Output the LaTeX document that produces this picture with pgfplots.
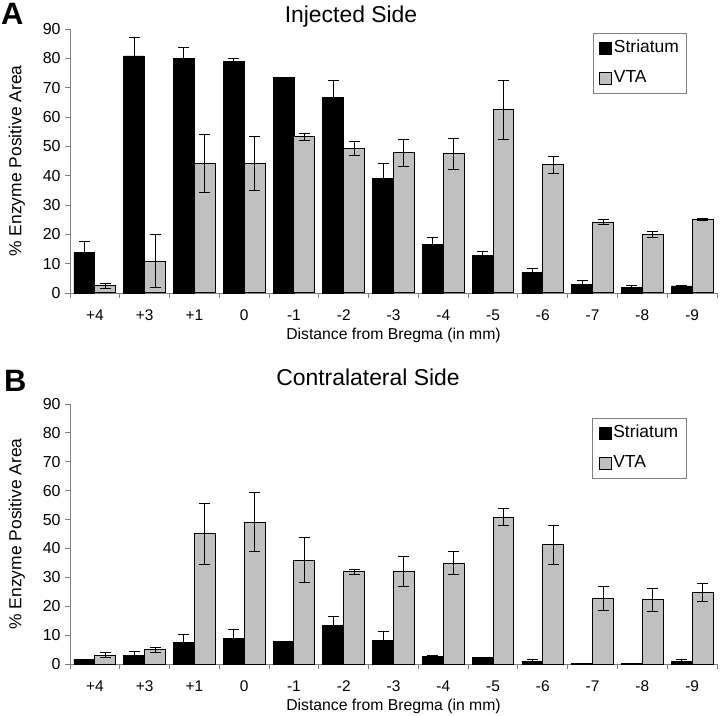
\documentclass[border=0pt]{standalone}
\usepackage{pgfplots}
\pgfplotsset{compat=1.18}
\usepackage{pgfplotstable}
\usepackage{fontspec}
\setmainfont{Liberation Sans}
\definecolor{barGray}{HTML}{C0C0C0}
\definecolor{axGray}{HTML}{808080}

\pgfplotstableread{
x s se v ve
0 13.7 3.8 2.4 0.9
1 80.8 6.2 10.8 9.0
2 79.9 3.7 44.2 9.9
3 79.0 0.8 44.2 9.1
4 73.6 0 53.3 1.2
5 66.6 5.7 49.3 2.5
6 38.9 5.3 47.8 4.6
7 16.6 2.3 47.5 5.3
8 12.8 1.3 62.4 10.0
9 7.0 1.4 43.7 3.0
10 2.8 1.3 24.2 1.0
11 1.9 0.5 19.9 0.9
12 2.4 0 25.1 0.3
}\dataA

\pgfplotstableread{
x s se v ve
0 1.6 0 3.1 0.9
1 3.1 1.2 4.9 0.9
2 7.4 2.8 45.1 10.6
3 8.8 3.2 49.0 10.2
4 7.7 0 35.9 7.8
5 13.3 3.2 31.9 0.9
6 8.3 2.8 32.0 5.2
7 2.5 0.5 34.9 3.9
8 2.4 0 50.8 3.0
9 0.9 0.5 41.2 6.9
10 0.2 0 22.8 4.2
11 0.2 0 22.2 4.0
12 1.0 0.5 24.7 3.0
}\dataB

\pgfplotsset{
  panel/.style={
    anchor=south west,
    scale only axis, width=647bp,
    xmin=-0.5, xmax=12.5, ymin=0, ymax=90,
    ybar=0pt, bar width=0.42,
    ytick={0,10,...,90},
    xtick={0,...,12},
    xticklabels={+4,+3,+1,0,-1,-2,-3,-4,-5,-6,-7,-8,-9},
    minor xtick={-0.5,0.5,...,12.5},
    major x tick style={draw=none},
    major tick length=5bp, minor tick length=5bp,
    tick align=outside,
    axis lines*=left,
    axis line style={axGray, line width=0.9bp},
    tick style={axGray, line width=0.9bp},
    /pgf/number format/assume math mode=true,
    yticklabel style={font=\fontsize{16}{16}\selectfont, xshift=-1bp},
    xticklabel style={font=\fontsize{15.5}{16}\selectfont, yshift=-8bp},
    ylabel={\% Enzyme Positive Area},
    ylabel style={font=\fontsize{17.5}{18}\selectfont},
    every axis y label/.append style={at={(axis description cs:-0.082,0.5)}, anchor=center},
    xlabel={Distance from Bregma (in mm)},
    xlabel style={font=\fontsize{15.8}{16}\selectfont},
    every axis x label/.append style={at={(rel axis cs:0.5,0)}, yshift=-42bp, anchor=center},
    clip=false,
    legend cell align=left,
    legend image code/.code={\draw[#1, line width=0.8bp] (0bp,-6bp) rectangle (12bp,6bp);},
    legend style={draw=axGray, line width=0.8bp, font=\fontsize{17.5}{18}\selectfont,
      inner xsep=6bp, inner ysep=0bp, row sep=0bp, anchor=north west,
      nodes={inner xsep=2bp, inner ysep=6.5bp, text height=13bp, text depth=4bp}},
  },
  sbar/.style={fill=black, draw=black, line width=0.8bp,
    error bars/.cd, y dir=both, y explicit,
    error bar style={black, line width=1bp},
    error mark options={rotate=90, black, line width=1bp, mark size=5.5bp}},
  vbar/.style={fill=barGray, draw=black, line width=1bp,
    error bars/.cd, y dir=both, y explicit,
    error bar style={black, line width=1bp},
    error mark options={rotate=90, black, line width=1bp, mark size=5.5bp}},
}

\begin{document}
\begin{tikzpicture}
\path[use as bounding box] (0,0) rectangle (720bp,716bp);

\begin{axis}[panel, at={(70bp,423bp)}, height=264bp,
  legend style={at={(0.808,0.985)}}]
\addplot[sbar] table[x=x, y=s, y error=se] {\dataA};
\addplot[vbar] table[x=x, y=v, y error=ve] {\dataA};
\legend{Striatum, VTA}
\end{axis}

\begin{axis}[panel, at={(70bp,52bp)}, height=260bp,
  legend style={at={(0.807,0.946)}}]
\addplot[sbar] table[x=x, y=s, y error=se] {\dataB};
\addplot[vbar] table[x=x, y=v, y error=ve] {\dataB};
\legend{Striatum, VTA}
\end{axis}

\node[font=\fontsize{23}{24}\selectfont] at (351bp,699bp) {Injected Side};
\node[font=\fontsize{23}{24}\selectfont] at (368bp,339bp) {Contralateral Side};
\node[font=\bfseries\fontsize{31}{32}\selectfont, anchor=north west, inner sep=0pt] at (1bp,713bp) {A};
\node[font=\bfseries\fontsize{31}{32}\selectfont, anchor=north west, inner sep=0pt] at (4bp,346bp) {B};
\end{tikzpicture}
\end{document}
